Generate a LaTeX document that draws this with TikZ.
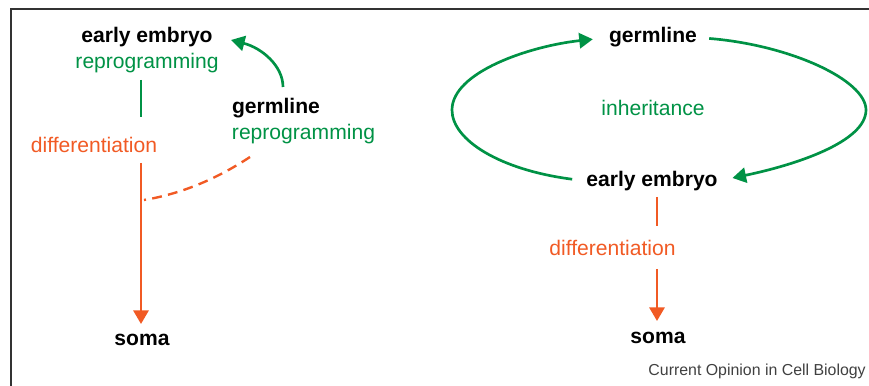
\documentclass[tikz,border=0pt]{standalone}
\usepackage{fontspec}
\setmainfont{Liberation Sans}
\usetikzlibrary{arrows.meta}
\definecolor{germgreen}{RGB}{0,146,69}
\definecolor{difforange}{RGB}{241,90,36}
\tikzset{
  stage/.style={font=\fontsize{15}{18}\selectfont\bfseries, inner sep=0pt},
  greentext/.style={font=\fontsize{15}{18}\selectfont, text=germgreen, inner sep=0pt},
  orangetext/.style={font=\fontsize{15}{18}\selectfont, text=difforange, inner sep=0pt},
  greenline/.style={draw=germgreen, line width=1.9pt},
  orangeline/.style={draw=difforange, line width=1.7pt},
  filltip/.style={-{Triangle[length=3.4mm,width=3.8mm]}}
}
\begin{document}
\begin{tikzpicture}[x=0.025cm,y=-0.025cm]
\useasboundingbox (0,0) rectangle (869,386);

% frame
\draw [black!80, line width=0.9pt] (11,390) -- (11,9) -- (872,9);

% left panel
\node[stage] (embL) at (147,37) {early embryo};
\node[greentext] (reproL) at (147,63) {reprogramming};
\node[orangetext] (diffL) at (94,144.5) {differentiation};
\node[stage] (somaL) at (142,340) {soma};
\node[stage] (germL) at (276,108) {germline};
\node[greentext] (reproG) at (303.5,134.5) {reprogramming};

\coordinate (keepA) at (141,80);
\coordinate (keepB) at (141,117);
\coordinate (diffA) at (141,163);
\coordinate (diffB) at (141,324);
\coordinate (loopA) at (283,87);
\coordinate (loopB) at (231,40);
\coordinate (dashA) at (250,157);
\coordinate (dashB) at (144,200);

\draw [greenline] (keepA) -- (keepB);
\draw [orangeline, filltip] (diffA) -- (diffB);
\draw [greenline, filltip] (loopA) .. controls (283,66) and (262,48) .. (loopB);
\draw [orangeline, dash pattern=on 7pt off 4.5pt] (dashA) .. controls (215,180) and (180,194) .. (dashB);

% right panel
\node[stage] (germR) at (653,37.5) {germline};
\node[greentext] (inherit) at (653,107.5) {inheritance};
\node[stage] (embR) at (652,181) {early embryo};
\node[orangetext] (diffR) at (612.5,248) {differentiation};
\node[stage] (somaR) at (658,338) {soma};

\draw [greenline, filltip, shorten <=3.5mm, shorten >=4mm] (embR.west)
  .. controls (500,170) and (452,140) .. (452,110)
  .. controls (452,72) and (530,46) .. (germR.west);
\draw [greenline, filltip, shorten <=3mm, shorten >=3.7mm] (germR.east)
  .. controls (790,45) and (866,80) .. (866,110)
  .. controls (866,142) and (795,165) .. (embR.east);

\coordinate (stepA) at (657,197);
\coordinate (stepB) at (657,226);
\coordinate (stepC) at (657,269);
\coordinate (stepD) at (657,321);
\draw [orangeline] (stepA) -- (stepB);
\draw [orangeline, filltip] (stepC) -- (stepD);

\node[font=\fontsize{11.3}{13}\selectfont, text=black!75, anchor=east, inner sep=0pt] (credit) at (866,371.5) {Current Opinion in Cell Biology};
\end{tikzpicture}
\end{document}
